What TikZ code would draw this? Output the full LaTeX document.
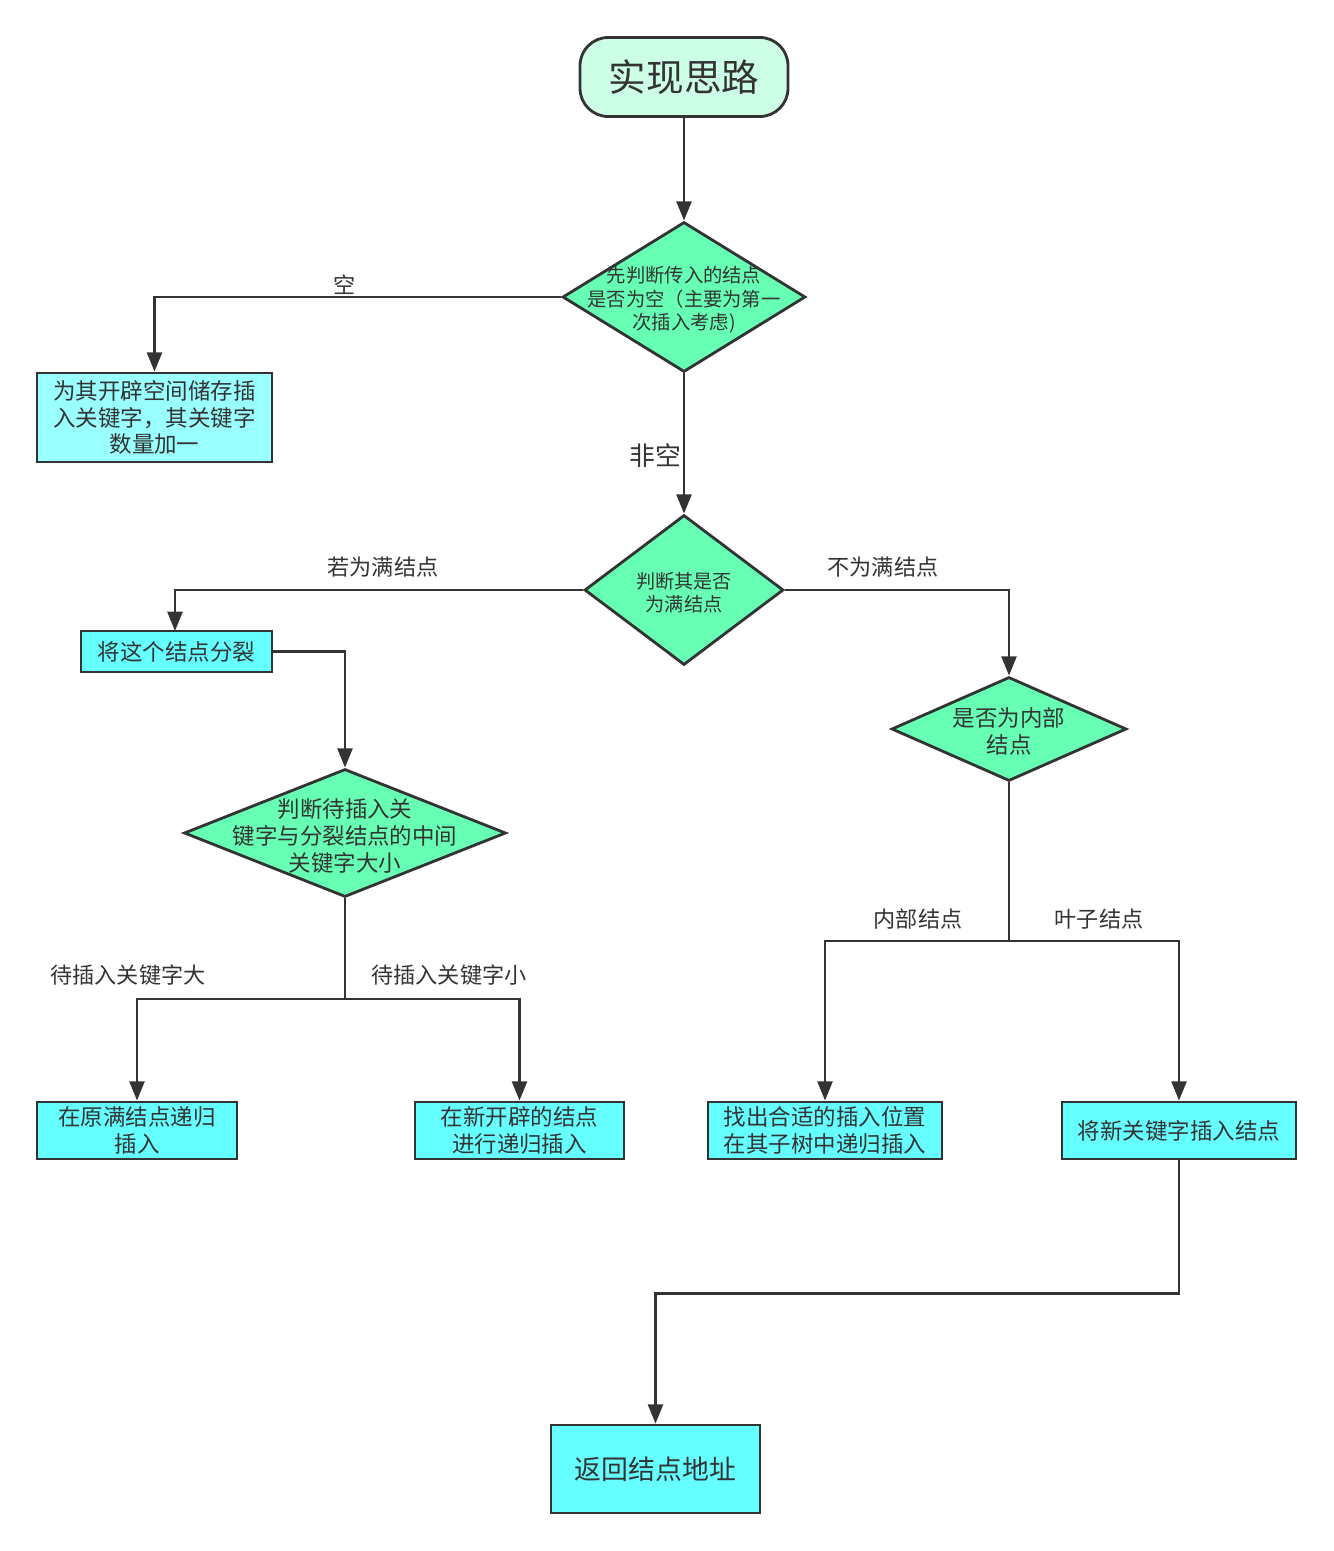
\documentclass[tikz,border=0pt]{standalone}
\usepackage{fontspec}
\setmainfont{Noto Sans CJK SC}
\usetikzlibrary{shapes.geometric,arrows.meta}
\definecolor{inkgray}{HTML}{333333}
\definecolor{mintpale}{HTML}{CCFFE6}
\definecolor{mintdeep}{HTML}{66FFB3}
\definecolor{cyanpale}{HTML}{99FFFF}
\definecolor{cyandeep}{HTML}{66FFFF}
\begin{document}
\begin{tikzpicture}[x=0.02cm,y=-0.02cm,line width=1.6pt,draw=inkgray,text=inkgray]
    \tikzstyle{arr}=[-{Triangle[length=11pt,width=8.5pt]},draw=inkgray]
    \tikzstyle{choice}=[diamond,draw=inkgray,fill=mintdeep,inner sep=0pt]
    \tikzstyle{work}=[rectangle,draw=inkgray,fill=cyandeep,inner sep=0pt,align=center,font=\fontsize{12.8}{15.3}\selectfont]
    \tikzstyle{txt}=[align=center,inner sep=0pt,yshift=-1.6pt,text=inkgray,font=\fontsize{12.8}{15.3}\selectfont]
    \tikzstyle{lbl}=[inner sep=0pt,text=inkgray,font=\fontsize{12.6}{15}\selectfont]
    \useasboundingbox (0,0) rectangle (1333,1551);

    % start
    \node[rectangle,rounded corners=16pt,draw=inkgray,fill=mintpale,minimum width=4.16cm,minimum height=1.58cm,
          font=\fontsize{21.4}{25}\selectfont] (start) at (684,77) {\raisebox{-2pt}{实现思路}};

    % decisions
    \node[choice,minimum width=4.86cm,minimum height=3.0cm] (d1) at (684,297) {};
    \node[txt,font=\fontsize{11}{13.6}\selectfont] (t1) at (d1) {先判断传入的结点\\是否为空（主要为第一\\次插入考虑)};
    \node[choice,minimum width=3.98cm,minimum height=3.0cm] (d2) at (684,590) {};
    \node[txt,font=\fontsize{10.9}{13}\selectfont] (t2) at (d2) {判断其是否\\为满结点};
    \node[choice,minimum width=6.44cm,minimum height=2.56cm] (d3) at (345,833) {};
    \node[txt] (t3) at (d3) {判断待插入关\\键字与分裂结点的中间\\关键字大小};
    \node[choice,minimum width=4.7cm,minimum height=2.08cm] (d4) at (1009,729) {};
    \node[txt] (t4) at (d4) {是否为内部\\结点};

    % boxes
    \node[work,fill=cyanpale,minimum width=4.7cm,minimum height=1.78cm] (b1) at (154.5,417.5) {为其开辟空间储存插\\入关键字，其关键字\\数量加一};
    \node[work,minimum width=3.82cm,minimum height=0.82cm] (b2) at (176.5,651.5) {将这个结点分裂};
    \node[work,minimum width=4.0cm,minimum height=1.14cm] (b3) at (137,1130.5) {在原满结点递归\\插入};
    \node[work,minimum width=4.18cm,minimum height=1.14cm] (b4) at (519.5,1130.5) {在新开辟的结点\\进行递归插入};
    \node[work,minimum width=4.68cm,minimum height=1.14cm] (b5) at (825,1130.5) {找出合适的插入位置\\在其子树中递归插入};
    \node[work,minimum width=4.68cm,minimum height=1.14cm] (b6) at (1179,1130.5) {将新关键字插入结点};
    \node[work,minimum width=4.18cm,minimum height=1.76cm,font=\fontsize{15.3}{18}\selectfont] (b7) at (655.5,1469) {返回结点地址};

    % branch points
    \coordinate (s3) at (345,999);
    \coordinate (s4) at (1009,941);

    % connectors
    \draw[arr] (start) -- (d1.north);
    \draw[arr] (d1.west) -| (b1.north);
    \draw[arr] (d1.south) -- (d2.north);
    \draw[arr] (d2.west) -| (175,631);
    \draw[arr] (b2.east) -| (d3.north);
    \draw[arr] (d2.east) -| (d4.north);
    \draw (d3.south) -- (s3);
    \draw (d4.south) -- (s4);
    \foreach \from/\to in {s3/b3, s3/b4, s4/b5, s4/b6}
        \draw[arr] (\from) -| (\to.north);
    \draw[arr] (b6.south) -- ++(0,133) -| (b7.north);

    % labels
    \node[lbl] (l1) at (345,285) {空};
    \node[lbl,font=\fontsize{14.7}{17}\selectfont] (l2) at (655,456) {非空};
    \node[lbl] (l3) at (383,567) {若为满结点};
    \node[lbl] (l4) at (883,567) {不为满结点};
    \node[lbl] (l5) at (128,975) {待插入关键字大};
    \node[lbl] (l6) at (449,975) {待插入关键字小};
    \node[lbl] (l7) at (918,919) {内部结点};
    \node[lbl] (l8) at (1099,919) {叶子结点};
\end{tikzpicture}
\end{document}
